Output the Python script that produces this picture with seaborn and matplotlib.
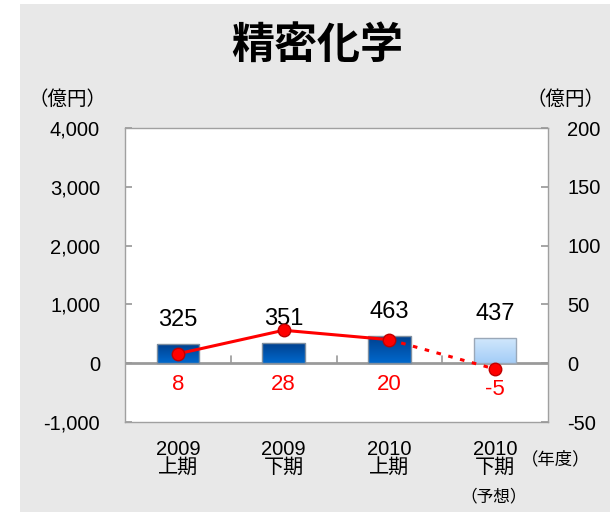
import numpy as np
import pandas as pd
import matplotlib
matplotlib.use("Agg")
import matplotlib.pyplot as plt
from matplotlib.patches import Rectangle
from matplotlib.colors import LinearSegmentedColormap
import seaborn as sns

# ---- data ----
categories = ["2009\n上期", "2009\n下期", "2010\n上期", "2010\n下期"]
sales = [325, 351, 463, 437]          # 売上高 (億円, left axis)
profit = [8, 28, 20, -5]              # 営業利益 (億円, right axis)
forecast = [False, False, False, True]
left_ticks = [-1000, 0, 1000, 2000, 3000, 4000]
right_ticks = [-50, 0, 50, 100, 150, 200]
title = "精密化学"
unit_label = "（億円）"
year_label = "（年度）"
forecast_note = "（予想）"

sns.set_theme(style="white")
FONT = ["Liberation Sans", "Noto Sans CJK JP", "DejaVu Sans"]
CJK = ["Noto Sans CJK JP", "DejaVu Sans"]
plt.rcParams["font.family"] = FONT
plt.rcParams["text.color"] = "black"
plt.rcParams["xtick.labelcolor"] = "black"
plt.rcParams["ytick.labelcolor"] = "black"

W, H = 610, 512
fig = plt.figure(figsize=(W / 100, H / 100), dpi=100, facecolor="white")
fig.patches.append(Rectangle((20 / W, 0), 1 - 20 / W, 1 - 4 / H,
                             transform=fig.transFigure, facecolor="#e8e8e8",
                             edgecolor="none", zorder=-10))

ax = fig.add_axes([125 / W, 1 - 422 / H, (548 - 125) / W, (422 - 128) / H])
ax.set_facecolor("white")

df = pd.DataFrame({"cat": categories, "sales": sales, "profit": profit})
sns.barplot(data=df, x="cat", y="sales", ax=ax, width=0.4,
            color="#0050a8", edgecolor="#7f8fa0", linewidth=1, zorder=3)
ax.set_ylim(-1000, 4000)
ax.set_xlim(-0.5, len(categories) - 0.5)

# gradient fill of bars
dark = LinearSegmentedColormap.from_list("d", ["#0068cc", "#003f8c"])
light = LinearSegmentedColormap.from_list("l", ["#a4cdf7", "#d2e8fc"])
grad = np.linspace(0, 1, 64).reshape(-1, 1)
for p, fc in zip(ax.patches, forecast):
    x0, y0 = p.get_x(), p.get_y()
    w, h = p.get_width(), p.get_height()
    im = ax.imshow(grad, cmap=light if fc else dark, origin="lower",
                   extent=[x0, x0 + w, y0, y0 + h], aspect="auto", zorder=3.5)
    im.set_clip_path(p)
    p.set_facecolor("none")
    p.set_zorder(4)
    if fc:
        p.set_edgecolor("#9aa8b8")
ax.set_ylim(-1000, 4000)
ax.set_xlim(-0.5, len(categories) - 0.5)

ax.axhline(0, color="#9a9a9a", lw=2, zorder=2)
for b in np.arange(0.5, len(categories) - 0.5, 1.0):
    ax.plot([b, b], [0, 120], color="#9a9a9a", lw=1.2, zorder=2)

for i, v in enumerate(sales):
    ax.annotate(f"{v}", (i, v), xytext=(0, 17), textcoords="offset points",
                ha="center", va="center", fontsize=17, color="black", zorder=6)

ax.set_yticks(left_ticks)
ax.set_yticklabels([f"{t:,}" for t in left_ticks], fontsize=14.5)
ax.set_xticks(range(len(categories)))
ax.set_xticklabels(categories, fontsize=14.5, linespacing=0.95)
ax.tick_params(axis="x", length=0, pad=13, labelcolor="black")
ax.tick_params(axis="y", direction="in", length=5, color="#9a9a9a", pad=18,
               labelcolor="black")
ax.set_xlabel("")
ax.set_ylabel("")
for s in ax.spines.values():
    s.set_color("#a0a0a0")
    s.set_linewidth(1)

# ---- right axis: line ----
ax2 = ax.twinx()
ax2.set_ylim(-50, 200)
xs = np.arange(len(profit))
solid = df.iloc[:3].assign(x=xs[:3])
dotted = df.iloc[2:].assign(x=xs[2:])
sns.lineplot(data=solid, x="x", y="profit", ax=ax2, color="#ff0000", lw=2.2,
             zorder=5)
sns.lineplot(data=dotted, x="x", y="profit", ax=ax2, color="#ff0000", lw=2.2,
             linestyle=(0, (1.5, 2.5)), zorder=5)
ax2.plot(xs, profit, linestyle="none", marker="o", markersize=9,
         markerfacecolor="#ff0000", markeredgecolor="#c00000",
         markeredgewidth=1, zorder=6)
for i, v in enumerate(profit):
    ax2.annotate(f"{v}", (i, min(v, 0)), xytext=(0, -15),
                 textcoords="offset points", ha="center", va="center",
                 fontsize=16, color="#ff0000", zorder=6)
ax2.set_yticks(right_ticks)
ax2.set_yticklabels([str(t) for t in right_ticks], fontsize=14.5)
ax2.tick_params(axis="y", direction="in", length=5, color="#9a9a9a", pad=14,
                labelcolor="black")
ax2.set_ylabel("")
ax2.set_xlabel("")
ax2.set_xlim(-0.5, len(categories) - 0.5)
for s in ax2.spines.values():
    s.set_visible(False)

# ---- texts ----
fig.text(317 / W, 1 - 45 / H, title, ha="center", va="center", fontsize=31,
         fontweight="bold", family=CJK, color="black")
fig.text(68 / W, 1 - 99 / H, unit_label, ha="center", va="center",
         fontsize=14, family=CJK, color="black")
fig.text(565 / W, 1 - 99 / H, unit_label, ha="center", va="center",
         fontsize=14, family=CJK, color="black")
fig.text(556 / W, 1 - 459 / H, year_label, ha="center", va="center",
         fontsize=12.5, family=CJK, color="black")
fig.text(494 / W, 1 - 497 / H, forecast_note, ha="center", va="center",
         fontsize=12, family=CJK, color="black")

fig.savefig("out.png", dpi=100, facecolor=fig.get_facecolor())
